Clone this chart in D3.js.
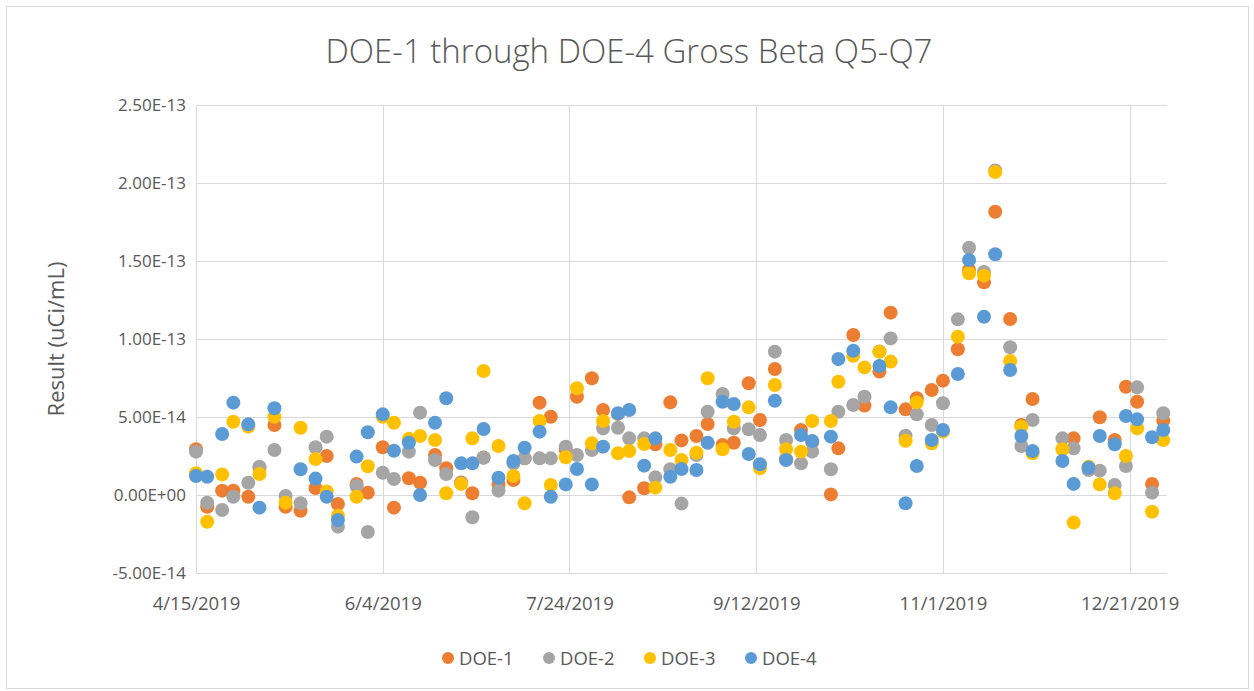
<!DOCTYPE html>
<html>
<head>
  <meta charset="utf-8">
  <title>DOE-1 through DOE-4 Gross Beta Q5-Q7</title>
  <style>
    body { margin: 0; background: #fff; }
    text { font-family: "Open Sans", "Liberation Sans", sans-serif; fill: #595959; }
    .grid line { stroke: #d9d9d9; stroke-width: 1; }
  </style>
</head>
<body>
  <svg width="1254" height="691"></svg>
  <script src="https://d3js.org/d3.v7.min.js"></script>
  <script>
    // sample dates (Mon/Thu-ish schedule)
    const dates = [
      "2019-04-15","2019-04-18","2019-04-22","2019-04-25","2019-04-29","2019-05-02","2019-05-06","2019-05-09",
      "2019-05-13","2019-05-17","2019-05-20","2019-05-23","2019-05-28","2019-05-31","2019-06-04","2019-06-07",
      "2019-06-11","2019-06-14","2019-06-18","2019-06-21","2019-06-25","2019-06-28","2019-07-01","2019-07-05",
      "2019-07-09","2019-07-12","2019-07-16","2019-07-19","2019-07-23","2019-07-26","2019-07-30","2019-08-02",
      "2019-08-06","2019-08-09","2019-08-13","2019-08-16","2019-08-20","2019-08-23","2019-08-27","2019-08-30",
      "2019-09-03","2019-09-06","2019-09-10","2019-09-13","2019-09-17","2019-09-20","2019-09-24","2019-09-27",
      "2019-10-02","2019-10-04","2019-10-08","2019-10-11","2019-10-15","2019-10-18","2019-10-22","2019-10-25",
      "2019-10-29","2019-11-01","2019-11-05","2019-11-08","2019-11-12","2019-11-15","2019-11-19","2019-11-22",
      "2019-11-25","2019-12-03","2019-12-06","2019-12-10","2019-12-13","2019-12-17","2019-12-20","2019-12-23",
      "2019-12-27","2019-12-30"
    ];

    // results in units of 1E-14 uCi/mL
    const doe1 = [
      2.93,-0.75,0.28,0.28,-0.11,1.75,4.49,-0.75, -1.01,0.45,2.50,-0.58,0.71,0.15,3.06,-0.81,
      1.07,0.79,2.56,1.71,0.80,0.11,2.40,0.68, 0.96,2.35,5.92,5.02,2.90,6.30,7.48,5.45,
      5.20,-0.15,0.43,3.25,5.94,3.50,3.78,4.55, 3.21,3.35,7.16,4.81,8.08,2.30,4.17,3.40,
      0.04,2.99,10.26,5.73,7.91,11.69,5.49,6.20, 6.73,7.33,9.34,14.42,13.63,18.16,11.28,4.49,
      6.15,null,3.63,1.70,4.98,3.53,6.94,5.98, 0.71,4.76
    ];
    const doe2 = [
      2.78,-0.49,-0.96,-0.11,0.79,1.81,2.88,-0.06, -0.53,3.06,3.74,-2.03,0.58,-2.37,1.43,1.03,
      2.78,5.28,2.24,1.35,0.75,-1.43,2.39,0.28, 2.03,2.35,2.35,2.35,3.10,2.56,2.88,4.27,
      4.31,3.63,3.63,1.13,1.65,-0.55,2.56,5.34, 6.47,4.27,4.21,3.85,9.19,3.53,2.03,2.78,
      1.65,5.34,5.77,6.30,9.20,10.04,3.80,5.17, 4.49,5.88,11.26,15.85,14.30,20.80,9.47,3.14,
      4.81,3.63,2.99,1.60,1.56,0.64,1.86,6.90, 0.15,5.24
    ];
    const doe3 = [
      1.39,-1.71,1.32,4.70,4.38,1.35,5.02,-0.49, 4.31,2.30,0.23,-1.33,-0.11,1.84,5.02,4.63,
      3.60,3.78,3.53,0.11,0.71,3.63,7.95,3.14, 1.22,-0.53,4.74,0.64,2.42,6.84,3.31,4.74,
      2.67,2.82,3.27,0.47,2.88,2.24,2.71,7.48, 2.93,4.70,5.62,1.71,7.05,2.93,2.78,4.74,
      4.74,7.26,8.93,8.18,9.19,8.55,3.48,5.94, 3.31,4.06,10.15,14.21,14.06,20.70,8.59,4.38,
      2.67,2.93,-1.77,1.81,0.68,0.11,2.50,4.27, -1.07,3.53
    ];
    const doe4 = [
      1.22,1.17,3.91,5.92,4.53,-0.81,5.56,null, 1.65,1.05,-0.11,-1.60,2.46,4.02,5.17,2.84,
      3.35,0.00,4.63,6.20,2.03,2.03,4.23,1.11, 2.18,3.03,4.06,-0.11,0.68,1.67,0.68,3.10,
      5.24,5.45,1.88,3.63,1.17,1.66,1.60,3.35, 5.98,5.83,2.63,1.97,6.04,2.24,3.85,3.46,
      3.74,8.72,9.25,null,8.27,5.62,-0.53,1.86, 3.53,4.17,7.76,15.06,11.43,15.43,8.01,3.78,
      2.82,2.18,0.71,1.75,3.78,3.25,5.06,4.85, 3.70,4.17
    ];

    const seriesNames = ["DOE-1", "DOE-2", "DOE-3", "DOE-4"];
    const seriesColors = ["#ED7D31", "#A5A5A5", "#FFC000", "#5B9BD5"];
    const xTicks = ["2019-04-15","2019-06-04","2019-07-24","2019-09-12","2019-11-01","2019-12-21"];
    const yTicks = [-5e-14, 0, 5e-14, 1e-13, 1.5e-13, 2e-13, 2.5e-13];
    const UNIT = 1e-14;

    const svg = d3.select("svg"),
          width = +svg.attr("width"),
          height = +svg.attr("height");

    const parse = d3.utcParse("%Y-%m-%d");
    const plot = {left: 196, right: 1167, top: 105, bottom: 573};

    const x = d3.scaleUtc()
      .domain([parse("2019-04-15"), parse("2019-12-31")])
      .range([plot.left, plot.right]);
    const y = d3.scaleLinear()
      .domain([-5e-14, 2.5e-13])
      .range([plot.bottom, plot.top]);

    // chart border
    svg.append("rect")
      .attr("x", 6.5).attr("y", 6.5)
      .attr("width", 1242).attr("height", 682)
      .attr("fill", "#fff")
      .attr("stroke", "#d9d9d9");

    // title
    svg.append("text")
      .attr("x", 629).attr("y", 63)
      .attr("text-anchor", "middle")
      .style("font-size", "33px")
      .style("font-weight", 300)
      .text("DOE-1 through DOE-4 Gross Beta Q5-Q7");

    // gridlines
    const grid = svg.append("g").attr("class", "grid");
    grid.selectAll(".h").data(yTicks).enter().append("line")
      .attr("x1", plot.left).attr("x2", plot.right)
      .attr("y1", d => Math.round(y(d)) + 0.5).attr("y2", d => Math.round(y(d)) + 0.5);
    grid.selectAll(".v").data(xTicks).enter().append("line")
      .attr("x1", d => Math.round(x(parse(d))) + 0.5).attr("x2", d => Math.round(x(parse(d))) + 0.5)
      .attr("y1", plot.top).attr("y2", plot.bottom);

    // y axis labels
    function fmtExp(v) {
      const s = v.toExponential(2).toUpperCase();   // e.g. 2.50E-13
      const m = s.match(/^(-?[\d.]+)E([+-])(\d+)$/);
      return m[1] + "E" + m[2] + m[3].padStart(2, "0");
    }
    const yAxis = d3.axisLeft(y).tickValues(yTicks).tickFormat(fmtExp).tickSize(0).tickPadding(10);
    svg.append("g")
      .attr("transform", `translate(${plot.left},0)`)
      .call(yAxis)
      .call(g => g.select(".domain").remove())
      .selectAll("text")
      .style("font-size", "17px")
      .style("font-family", "'Open Sans', sans-serif")
      .attr("fill", "#595959");

    // x axis labels (placed low, under the plot)
    const xAxis = d3.axisBottom(x).tickValues(xTicks.map(parse))
      .tickFormat(d3.utcFormat("%-m/%-d/%Y")).tickSize(0).tickPadding(24);
    svg.append("g")
      .attr("transform", `translate(0,${plot.bottom})`)
      .call(xAxis)
      .call(g => g.select(".domain").remove())
      .selectAll("text")
      .style("font-size", "18.5px")
      .style("font-family", "'Open Sans', sans-serif")
      .attr("fill", "#595959");

    // y axis title
    svg.append("text")
      .attr("transform", `translate(64,${(plot.top + plot.bottom) / 2}) rotate(-90)`)
      .attr("text-anchor", "middle")
      .style("font-size", "22px")
      .text("Result (uCi/mL)");

    // points
    const allSeries = [doe1, doe2, doe3, doe4];
    allSeries.forEach((vals, i) => {
      const pts = dates.map((d, j) => ({date: parse(d), v: vals[j]})).filter(p => p.v !== null);
      svg.append("g").selectAll("circle")
        .data(pts).enter().append("circle")
        .attr("cx", p => x(p.date))
        .attr("cy", p => y(p.v * UNIT))
        .attr("r", 7)
        .attr("fill", seriesColors[i]);
    });

    // legend
    const legend = svg.append("g").attr("transform", "translate(448,658)");
    const item = legend.selectAll("g").data(seriesNames).enter().append("g")
      .attr("transform", (d, i) => `translate(${i * 101},0)`);
    item.append("circle").attr("r", 6).attr("fill", (d, i) => seriesColors[i]);
    item.append("text").attr("x", 11).attr("y", 6.5).style("font-size", "18.5px").text(d => d);
  </script>
</body>
</html>
